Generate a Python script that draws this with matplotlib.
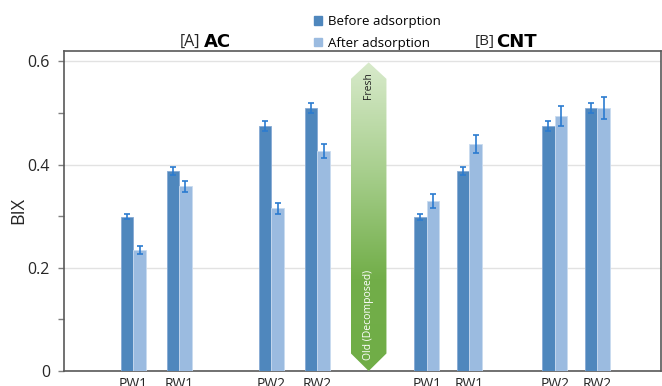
import numpy as np
import matplotlib
matplotlib.use("Agg")
import matplotlib.pyplot as plt
from matplotlib.patches import Polygon, Patch
from matplotlib.colors import LinearSegmentedColormap

# BIX values
labels = ["PW1", "RW1", "PW2", "RW2", "PW1", "RW1", "PW2", "RW2"]
before = [0.299, 0.388, 0.475, 0.509, 0.299, 0.388, 0.475, 0.509]
after = [0.235, 0.358, 0.315, 0.426, 0.329, 0.440, 0.494, 0.509]
before_err = [0.005, 0.008, 0.010, 0.010, 0.006, 0.008, 0.010, 0.010]
after_err = [0.008, 0.011, 0.011, 0.013, 0.013, 0.018, 0.020, 0.021]

# layout (x in pixel-like units across the axes)
group_x = np.array([69.3, 115, 207.3, 253.3, 362.7, 405.3, 490.7, 533.3])
arrow_x = 304.7
bar_w = 12.5

plt.rcParams["font.family"] = ["Open Sans", "DejaVu Sans"]

fig = plt.figure(figsize=(6.62, 3.86), dpi=100)
ax = fig.add_axes([64 / 662, 15 / 386, 597 / 662, 320 / 386])

c_before = "#4f87bd"
c_after = "#9bbbe0"
err_c = "#2b7bd0"

ax.bar(group_x - bar_w / 2, before, bar_w, color=c_before, edgecolor="#86aad4",
       linewidth=0.6, zorder=3)
ax.bar(group_x + bar_w / 2, after, bar_w, color=c_after, edgecolor="#c9dbf0",
       linewidth=0.6, zorder=3)
ax.errorbar(group_x - bar_w / 2, before, yerr=before_err, fmt="none", ecolor=err_c,
            elinewidth=1.2, capsize=2.2, capthick=1.2, zorder=4)
ax.errorbar(group_x + bar_w / 2, after, yerr=after_err, fmt="none", ecolor=err_c,
            elinewidth=1.2, capsize=2.2, capthick=1.2, zorder=4)

# Fresh / Old arrow with gradient
half = 35.5 / 2
tip_top, sh_top, sh_bot, tip_bot = 0.598, 0.566, 0.034, 0.0
pts = [(arrow_x, tip_top), (arrow_x + half, sh_top), (arrow_x + half, sh_bot),
       (arrow_x, tip_bot), (arrow_x - half, sh_bot), (arrow_x - half, sh_top)]
poly = Polygon(pts, closed=True, facecolor="none", edgecolor="none", zorder=3)
ax.add_patch(poly)
cmap = LinearSegmentedColormap.from_list(
    "grn", [(0, "#70ad47"), (0.3, "#72ae49"), (0.65, "#a8cf8e"), (1, "#d8eacb")])
grad = np.linspace(0, 1, 256).reshape(-1, 1)
im = ax.imshow(grad, cmap=cmap, origin="lower", aspect="auto",
               extent=[arrow_x - half, arrow_x + half, tip_bot, tip_top], zorder=3)
im.set_clip_path(poly)
ax.text(arrow_x, 0.553, "Fresh", rotation=90, ha="center", va="center",
        fontsize=7.5, color="#222222", zorder=5)
ax.text(arrow_x, 0.108, "Old (Decomposed)", rotation=90, ha="center", va="center",
        fontsize=7.5, color="white", zorder=5)

ax.set_xlim(0, 597)
ax.set_ylim(0, 0.62)
ax.set_yticks([0, 0.2, 0.4, 0.6])
ax.set_yticklabels(["0", "0.2", "0.4", "0.6"])
ax.set_yticks([0.1, 0.3, 0.5], minor=True)
ax.set_xticks(group_x)
ax.set_xticklabels(labels)
ax.tick_params(axis="x", length=0, pad=4, labelsize=10, labelcolor="#262626")
ax.tick_params(axis="y", which="both", direction="out", length=4, width=1,
               color="#7f7f7f", labelsize=11.5, labelcolor="#262626", pad=6)
ax.grid(axis="y", color="#e2e2e2", linewidth=1, zorder=0)
ax.set_axisbelow(True)
for side, sp in ax.spines.items():
    sp.set_color("#595959")
    sp.set_linewidth(1.2)
ax.set_ylabel("BIX", fontsize=13, color="#262626", labelpad=0)

# legend and panel titles
handles = [Patch(color=c_before, label="Before adsorption"),
           Patch(color=c_after, label="After adsorption")]
fig.legend(handles=handles, loc="upper left", bbox_to_anchor=(314 / 662, 1 - 15 / 386),
           frameon=False, fontsize=9.5, handlelength=0.6, handleheight=0.6,
           handletextpad=0.45, labelspacing=0.65, borderpad=0, borderaxespad=0)

fig.text(180 / 662, 1 - 42 / 386, "[A]", fontsize=11.5, va="center", color="#262626")
fig.text(204 / 662, 1 - 42 / 386, "AC", fontsize=13, fontweight="heavy",
         family="DejaVu Sans", va="center", color="black")
fig.text(475 / 662, 1 - 42 / 386, "[B]", fontsize=11, va="center", color="#262626")
fig.text(496 / 662, 1 - 42 / 386, "CNT", fontsize=13, fontweight="heavy",
         family="DejaVu Sans", va="center", color="black")

fig.savefig("out.png", dpi=100)
